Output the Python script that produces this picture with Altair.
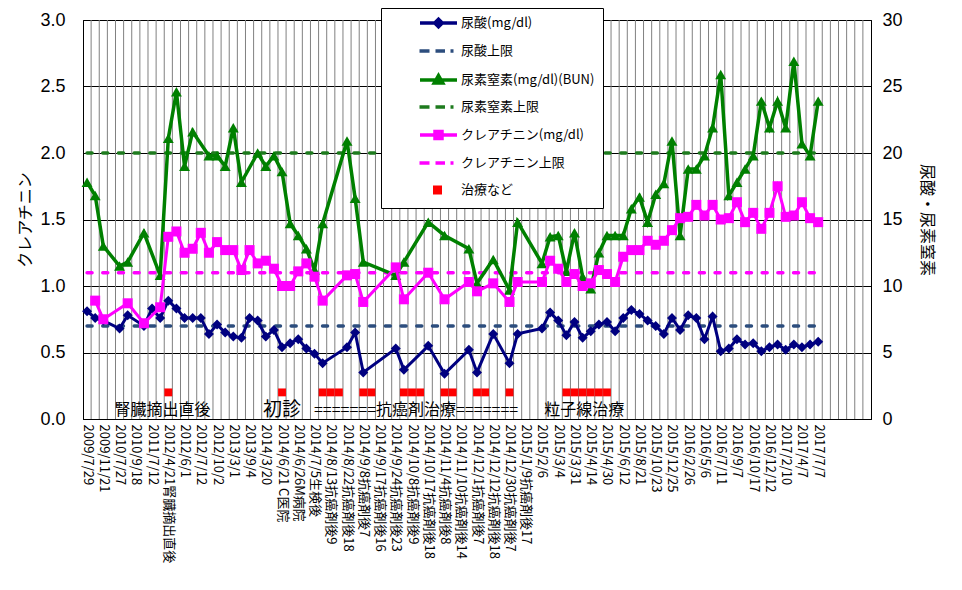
import altair as alt
import pandas as pd

JP = "Noto Sans CJK JP"
N_CAT = 97  # category slots on the x axis (data fills 0..90)

x_labels = [
    "2009/7/29", "2009/11/21", "2010/7/27", "2010/9/18", "2011/7/12",
    "2012/4/21腎臓摘出直後", "2012/6/1", "2012/7/12", "2012/10/2", "2013/3/1",
    "2013/9/4", "2014/3/20", "2014/6/21 C医院", "2014/6/26M病院", "2014/7/5生検後",
    "2014/8/13抗癌剤後9", "2014/8/22抗癌剤後18", "2014/9/8抗癌剤後7",
    "2014/9/17抗癌剤後16", "2014/9/24抗癌剤後23", "2014/10/8抗癌剤後9",
    "2014/10/17抗癌剤後18", "2014/11/4抗癌剤後8", "2014/11/10抗癌剤後14",
    "2014/12/1抗癌剤後7", "2014/12/12抗癌剤後18", "2014/12/30抗癌剤後7",
    "2015/1/9抗癌剤後17", "2015/2/6", "2015/3/4", "2015/3/31", "2015/4/14",
    "2015/4/30", "2015/6/12", "2015/8/21", "2015/10/23", "2015/12/25",
    "2016/2/26", "2016/5/6", "2016/7/11", "2016/9/7", "2016/10/17",
    "2016/12/12", "2017/2/10", "2017/4/7", "2017/7/7",
]

# 尿酸 (mg/dl), right axis, one value per category (None = no measurement)
uric = [
    8.1, 7.6, 7.4, None, 6.8, 7.8, None, 7.0, 8.3, 7.6,
    8.9, 8.3, 7.6, 7.6, 7.6, 6.4, 7.1, 6.5, 6.2, 6.1,
    7.6, 7.4, 6.2, 6.7, 5.4, 5.7, 6.0, 5.3, 4.9, 4.2,
    None, None, 5.4, 6.5, 3.5, None, None, None, 5.3, 3.7,
    None, None, 5.5, None, 3.4, None, None, 5.2, 3.5, None,
    6.4, None, 4.2, 6.4, None, None, 6.8, 8.0, 7.4, 6.3,
    7.3, 6.1, 6.6, 7.1, 7.3, 6.6, 7.6, 8.2, 7.9, 7.4,
    7.0, 6.4, 7.6, 6.7, 7.8, 7.6, 6.0, 7.7, 5.1, 5.3,
    6.0, 5.6, 5.7, 5.1, 5.4, 5.6, 5.2, 5.6, 5.4, 5.6,
    5.8,
]

# 尿素窒素 BUN (mg/dl), right axis
bun = [
    17.8, 16.8, 13.0, None, 11.5, 11.8, None, 14.0, None, 10.8,
    21.1, 24.6, 19.0, 21.6, None, 19.8, 19.8, 19.0, 21.9, 17.8,
    None, 20.0, 19.0, 19.8, 18.6, 14.7, 13.8, 12.8, 11.2, 14.7,
    None, None, 20.9, 16.6, 11.8, None, None, None, 10.8, 11.8,
    None, None, 14.8, None, 13.8, None, None, 12.8, 10.2, None,
    12.0, None, 9.7, 14.8, None, None, 11.7, 13.7, 13.8, 11.1,
    14.0, 10.7, 9.8, 12.5, 13.8, 13.8, 13.8, 15.8, 16.7, 14.8,
    16.9, 17.7, 20.9, 13.8, 18.8, 18.8, 19.8, 21.9, 25.9, 16.8,
    17.8, 18.8, 19.8, 23.9, 21.9, 23.9, 21.9, 26.9, 20.7, 19.8,
    23.9,
]

# クレアチニン (mg/dl), left axis
crea = [
    None, 0.89, 0.75, None, None, 0.87, None, 0.72, None, 0.84,
    1.37, 1.41, 1.25, 1.28, 1.40, 1.25, 1.33, 1.27, 1.27, 1.12,
    1.27, 1.17, 1.19, 1.13, 1.00, 1.00, 1.11, 1.17, 1.07, 0.89,
    None, None, 1.08, 1.09, 0.88, None, None, None, 1.14, 0.90,
    None, None, 1.10, None, 0.90, None, None, 1.03, 0.96, None,
    1.02, None, 0.88, 1.03, None, None, 1.03, 1.19, 1.13, 1.03,
    1.09, 1.00, 1.02, 1.12, 1.09, 1.03, 1.22, 1.27, 1.27, 1.34,
    1.31, 1.34, 1.42, 1.51, 1.52, 1.61, 1.53, 1.61, 1.50, 1.51,
    1.63, 1.48, 1.55, 1.43, 1.55, 1.75, 1.52, 1.53, 1.63, 1.51,
    1.48,
]

# 治療など: categories with a treatment marker, drawn at 0.2 on the left axis
treat_idx = [10, 24, 29, 30, 31, 34, 35, 39, 40, 41, 44, 45, 48, 49, 52,
             59, 60, 61, 62, 63, 64]
treat_level = 0.2

uric_limit = 7.0
bun_limit = 20.0
crea_limit = 1.1
limit_span = [0, 90]

notes = ["腎臓摘出直後", "初診", "=======抗癌剤治療=======", "粒子線治療"]
note_pos = [9.3, 24.0, 40.5, 61.2]
note_level = 0.07

legend_names = ["尿酸(mg/dl)", "尿酸上限", "尿素窒素(mg/dl)(BUN)", "尿素窒素上限",
                "クレアチニン(mg/dl)", "クレアチニン上限", "治療など"]

C_URIC, C_URIC_LIM = "#000080", "#2C4D7D"
C_BUN, C_BUN_LIM = "#008000", "#1E7B1E"
C_CREA = "#FF00FF"
C_TREAT = "#FF0000"


def to_df(values):
    return pd.DataFrame(
        [{"k": i, "v": v} for i, v in enumerate(values) if v is not None]
    )


label_js = "[" + ",".join(f"'{s}'" for s in x_labels) + "]"
x_scale = alt.Scale(domain=[-0.5, N_CAT - 0.5], nice=False, zero=False)
x_axis = alt.Axis(
    values=list(range(0, 2 * len(x_labels), 2)),
    labelExpr=f"{label_js}[datum.value / 2]",
    title=None, grid=False, ticks=False, domainColor="black",
    labelAngle=90, labelAlign="left", labelBaseline="middle",
    labelFont=JP, labelFontSize=13, labelColor="black", labelPadding=5,
    labelOverlap=False, labelFlush=False, labelBound=False, labelLimit=300,
)
X = alt.X("k:Q", scale=x_scale, axis=x_axis)

yl_scale = alt.Scale(domain=[0, 3], nice=False)
yr_scale = alt.Scale(domain=[0, 30], nice=False)
left_axis = alt.Axis(
    orient="left", values=[0, 0.5, 1, 1.5, 2, 2.5, 3], format=".1f",
    grid=True, gridColor="black", gridWidth=1, gridOpacity=1,
    ticks=False, domainColor="black",
    labelFont="Liberation Sans", labelFontSize=18, labelColor="black",
    labelPadding=18, title="クレアチニン", titleFont=JP, titleFontSize=16,
    titleFontWeight="normal", titleColor="black", titlePadding=6,
)
right_axis = alt.Axis(
    orient="right", values=[0, 5, 10, 15, 20, 25, 30], grid=False,
    ticks=False, domainColor="black",
    labelFont="Liberation Sans", labelFontSize=18, labelColor="black",
    labelPadding=11, title="尿酸・尿素窒素", titleFont=JP, titleFontSize=16,
    titleFontWeight="normal", titleColor="black", titlePadding=16,
)


def y_enc(scale, axis=None):
    return alt.Y("v:Q", scale=scale, axis=axis)


# vertical category gridlines (between categories)
vgrid = alt.Chart(pd.DataFrame({"k": [i + 0.5 for i in range(N_CAT - 1)]})).mark_rule(
    color="#808080", strokeWidth=1
).encode(x=X)


def limit_layer(value, color, scale, axis=None):
    df = pd.DataFrame({"k": [limit_span[0]], "k1": [limit_span[1]], "v": [value]})
    return alt.Chart(df).mark_rule(
        color=color, strokeWidth=3.5, strokeDash=[5, 10.7], strokeCap="round"
    ).encode(x=X, x2="k1:Q", y=y_enc(scale, axis))


def series_layers(values, color, shape, size, width, scale):
    df = to_df(values)
    line = alt.Chart(df).mark_line(color=color, strokeWidth=width).encode(
        x=X, y=y_enc(scale)
    )
    pts = alt.Chart(df).mark_point(
        shape=shape, filled=True, color=color, size=size, opacity=1
    ).encode(x=X, y=y_enc(scale))
    return [line, pts]


uric_lim = limit_layer(uric_limit, C_URIC_LIM, yr_scale, right_axis)
bun_lim = limit_layer(bun_limit, C_BUN_LIM, yr_scale)
crea_lim = limit_layer(crea_limit, C_CREA, yl_scale, left_axis)

treat = alt.Chart(
    pd.DataFrame({"k": treat_idx, "v": [treat_level] * len(treat_idx)})
).mark_square(color=C_TREAT, size=62, opacity=1).encode(x=X, y=y_enc(yl_scale))

note_df = pd.DataFrame({"k": note_pos, "v": [note_level] * len(notes), "t": notes})
note_text = alt.Chart(note_df).mark_text(
    font=JP, color="black", align="center", baseline="middle"
).encode(
    x=X, y=y_enc(yl_scale), text="t:N",
    size=alt.condition(alt.datum.t == "初診", alt.value(19), alt.value(16)),
)

# legend: drawn from an empty layer so only the legend box appears
legend_colors = [C_URIC, C_URIC_LIM, C_BUN, C_BUN_LIM, C_CREA, C_CREA, C_TREAT]
line_path = "M-6.4,0L1,0"
dash_path = "M-6.5,0L-4.5,0M-3.3,0L-1.4,0M-0.3,0L0.3,0"
legend_paths = [
    line_path + "M-2.7,-0.75L-1.95,0L-2.7,0.75L-3.45,0Z",
    dash_path,
    line_path + "M-2.7,-0.9L-1.85,0.6L-3.55,0.6Z",
    dash_path,
    line_path + "M-3.4,-0.7L-2.0,-0.7L-2.0,0.7L-3.4,0.7Z",
    dash_path,
    "M-3.45,-0.55L-2.35,-0.55L-2.35,0.55L-3.45,0.55Z",
]
leg_props = dict(
    title=None, orient="none", legendX=298, legendY=-12,
    fillColor="white", strokeColor="black", padding=8, cornerRadius=0,
    rowPadding=10, symbolOffset=56, labelOffset=2, symbolSize=100,
    symbolStrokeWidth=3.5, labelFont=JP, labelFontSize=13, labelColor="black",
)
legend_layer = alt.Chart(pd.DataFrame({"name": legend_names})).transform_filter(
    "false"
).mark_point(filled=True, size=100, opacity=1).encode(
    fill=alt.Fill("name:N", scale=alt.Scale(domain=legend_names, range=legend_colors),
                  legend=alt.Legend(**leg_props)),
    stroke=alt.Stroke("name:N", scale=alt.Scale(domain=legend_names, range=legend_colors),
                      legend=alt.Legend(**leg_props)),
    shape=alt.Shape("name:N", scale=alt.Scale(domain=legend_names, range=legend_paths),
                    legend=alt.Legend(**leg_props)),
)

layers = (
    [vgrid, uric_lim, bun_lim, crea_lim]
    + series_layers(uric, C_URIC, "diamond", 100, 3, yr_scale)
    + series_layers(bun, C_BUN, "triangle-up", 120, 3.5, yr_scale)
    + series_layers(crea, C_CREA, "square", 100, 3, yl_scale)
    + [treat, note_text, legend_layer]
)

chart = (
    alt.layer(*layers)
    .resolve_scale(y="independent")
    .properties(
        width=788, height=399,
        autosize=alt.AutoSizeParams(type="none"),
        padding={"left": 75, "top": 12, "right": 83, "bottom": 160},
        background="white",
    )
    .configure_view(stroke="black", strokeWidth=1)
)

chart.save("out.html", embed_options={"renderer": "svg", "actions": False})
